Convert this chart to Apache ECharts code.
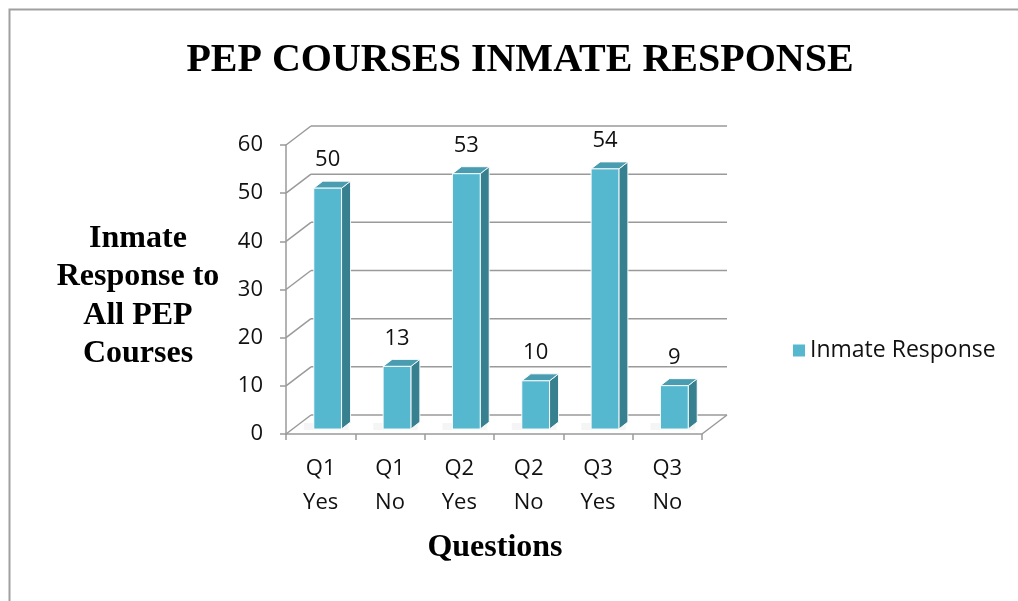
<!DOCTYPE html>
<html>
<head>
<meta charset="utf-8">
<script src="https://cdn.jsdelivr.net/npm/echarts@6/dist/echarts.min.js"></script>
<style>
html,body{margin:0;padding:0;background:#fff;}
#chart{width:1018px;height:601px;}
</style>
</head>
<body>
<div id="chart"></div>
<script>
// ---- data ----
const categories = ['Q1\nYes', 'Q1\nNo', 'Q2\nYes', 'Q2\nNo', 'Q3\nYes', 'Q3\nNo'];
const values = [50, 13, 53, 10, 54, 9];
const seriesName = 'Inmate Response';
const yTicks = [0, 10, 20, 30, 40, 50, 60];
const titleText = 'PEP COURSES INMATE RESPONSE';
const yAxisTitle = 'Inmate\nResponse to\nAll PEP\nCourses';
const xAxisTitle = 'Questions';

// ---- style ----
const DX = 25, DY = 19;          // depth of the 3D box (pixels)
const BX = 7, BY = 5;            // offset of bar front face from front plane
const SDX = 9, SDY = 7;          // bar depth
const GRID_COLOR = '#9a9a9a';
const FRONT = '#55b8cf', SIDE = '#37808f', TOP = '#4a9db1';
const SANS = '"Open Sans", sans-serif';
const SERIF = '"Liberation Serif", "Times New Roman", serif';

const chart = echarts.init(document.getElementById('chart'));

function wallItem(params, api) {
  const v = api.value(1);
  const p = api.coord([0, v]);
  const bw = api.size([1, 0])[0];
  const x0 = p[0] - bw / 2;
  const x1 = x0 + categories.length * bw;
  const y = p[1];
  const st = { stroke: GRID_COLOR, lineWidth: 1.5, fill: null };
  const children = [
    { type: 'line', shape: { x1: x0, y1: y, x2: x0 + DX, y2: y - DY }, style: st },
    { type: 'line', shape: { x1: x0 + DX, y1: y - DY, x2: x1 + DX, y2: y - DY }, style: st }
  ];
  if (v === 0) {
    children.push({ type: 'line', shape: { x1: x1, y1: y, x2: x1 + DX, y2: y - DY }, style: st });
  }
  return { type: 'group', children: children, silent: true };
}

function barItem(params, api) {
  const i = api.value(0), v = api.value(1);
  const base = api.coord([i, 0]);
  const top = api.coord([i, v]);
  const bw = api.size([1, 0])[0];
  const w = bw * 0.4;
  const cx = base[0] + BX;
  const by = base[1] - BY;
  const ty = top[1] - BY;
  const fx0 = cx - w / 2, fx1 = cx + w / 2;
  const edge = { stroke: 'rgba(255,255,255,0.9)', lineWidth: 1 };
  return {
    type: 'group',
    children: [
      { type: 'rect', shape: { x: fx0 - 10, y: by - SDY + 1, width: w + SDX + 8, height: SDY },
        style: { fill: 'rgba(0,0,0,0.04)', shadowBlur: 10, shadowColor: 'rgba(0,0,0,0.15)' }, z2: 0 },
      { type: 'polygon', shape: { points: [[fx1, ty], [fx1 + SDX, ty - SDY], [fx1 + SDX, by - SDY], [fx1, by]] },
        style: Object.assign({ fill: SIDE }, edge), z2: 1 },
      { type: 'polygon', shape: { points: [[fx0, ty], [fx0 + SDX, ty - SDY], [fx1 + SDX, ty - SDY], [fx1, ty]] },
        style: Object.assign({ fill: TOP }, edge), z2: 1 },
      { type: 'rect', shape: { x: fx0, y: ty, width: w, height: by - ty },
        style: Object.assign({ fill: FRONT }, edge), z2: 2 },
      { type: 'text', x: cx, y: ty - SDY - 21,
        style: { text: String(v), fill: '#111', font: '22px ' + SANS, align: 'center', verticalAlign: 'middle' }, z2: 3 }
    ]
  };
}

const option = {
  backgroundColor: '#fff',
  animation: false,
  grid: { left: 286, right: 316, top: 145, bottom: 167 },
  xAxis: {
    type: 'category',
    data: categories,
    axisLine: { show: true, lineStyle: { color: GRID_COLOR, width: 1.5 } },
    axisTick: { show: true, length: 6, lineStyle: { color: GRID_COLOR, width: 1.5 } },
    axisLabel: { color: '#111', fontSize: 22, fontFamily: SANS, lineHeight: 34, margin: 18 },
    splitLine: { show: false }
  },
  yAxis: {
    type: 'value', min: 0, max: 60, interval: 10,
    axisLine: { show: true, lineStyle: { color: GRID_COLOR, width: 1.5 } },
    axisTick: { show: true, length: 6, lineStyle: { color: GRID_COLOR, width: 1.5 } },
    axisLabel: { color: '#111', fontSize: 22, fontFamily: SANS, margin: 23 },
    splitLine: { show: false }
  },
  legend: {
    data: [{ name: seriesName, icon: 'rect' }],
    left: 788, top: 334, orient: 'vertical',
    itemWidth: 12, itemHeight: 12, itemGap: 6,
    textStyle: { color: '#111', fontSize: 23, fontFamily: SANS }
  },
  graphic: [
    { type: 'rect', left: 7, top: 7, shape: { width: 1100, height: 700 }, style: { fill: null, stroke: '#a0a0a0', lineWidth: 2 }, silent: true, z: -1 },
    { type: 'text', x: 520, y: 61, style: { text: titleText, fill: '#000', font: 'bold 40px ' + SERIF, align: 'center', verticalAlign: 'middle' } },
    { type: 'text', x: 138, y: 296, style: { text: yAxisTitle, fill: '#000', font: 'bold 32px ' + SERIF, align: 'center', verticalAlign: 'middle', lineHeight: 38.5 } },
    { type: 'text', x: 495, y: 548, style: { text: xAxisTitle, fill: '#000', font: 'bold 32px ' + SERIF, align: 'center', verticalAlign: 'middle' } }
  ],
  series: [
    { type: 'custom', name: 'walls', renderItem: wallItem, data: yTicks.map(t => [0, t]), z: 1, silent: true, legendHoverLink: false },
    { type: 'custom', name: seriesName, renderItem: barItem, itemStyle: { color: FRONT },
      data: values.map((v, i) => [i, v]), z: 3 }
  ]
};
chart.setOption(option);
</script>
</body>
</html>
